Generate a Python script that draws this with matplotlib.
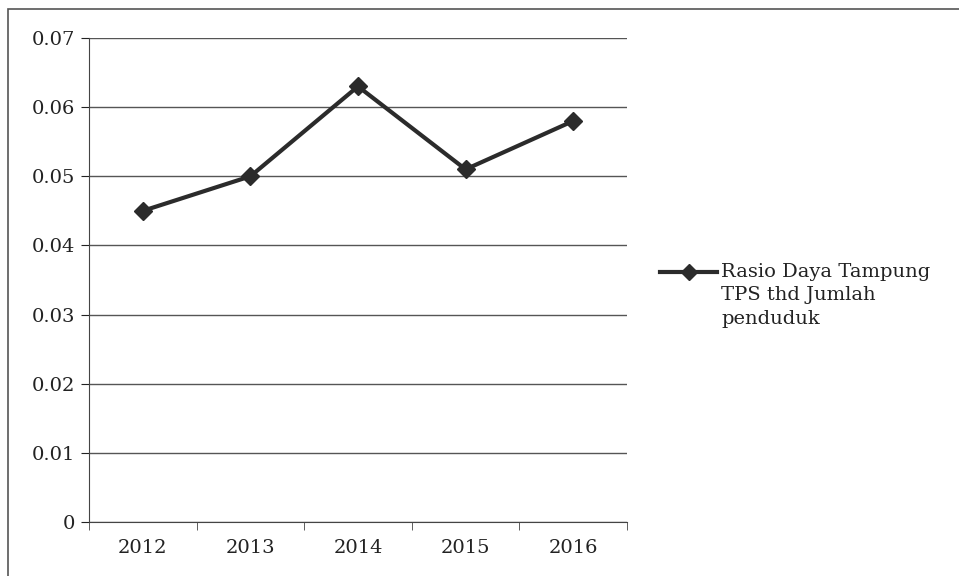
import numpy as np
import matplotlib.pyplot as plt
from matplotlib.patches import Rectangle
from matplotlib.lines import Line2D

years = ["2012", "2013", "2014", "2015", "2016"]
rasio = [0.045, 0.050, 0.063, 0.051, 0.058]
label = "Rasio Daya Tampung\nTPS thd Jumlah\npenduduk"

plt.rcParams['font.family'] = ['DejaVu Serif']

fig = plt.figure(figsize=(9.59, 5.76), dpi=100)
fig.patches.append(Rectangle((8/959, -0.1), 1.2, 1.1 - 9/576, transform=fig.transFigure,
                             fill=False, edgecolor="#555555", lw=1.2))

ax = fig.add_axes([89/959, 1-522/576, 538/959, 484/576])
x = np.arange(len(years))
ax.plot(x, rasio, color="#2b2b2b", lw=3, marker="D", markersize=9,
        markerfacecolor="#2b2b2b")

ax.set_xlim(-0.5, len(years)-0.5)
ax.set_ylim(0, 0.07)
ax.set_yticks(np.arange(0, 0.071, 0.01))
ax.set_yticklabels(["0"] + ["%.2f" % v for v in np.arange(0.01, 0.071, 0.01)])
ax.yaxis.grid(True, color="#555555", lw=1)
ax.set_axisbelow(True)

ax.set_xticks(x)
ax.set_xticklabels(years)
ax.set_xticks(np.arange(-0.5, len(years), 1), minor=True)
ax.tick_params(axis="x", which="major", length=0, pad=12, labelsize=14, colors="#222222")
ax.tick_params(axis="x", which="minor", length=6, color="#444444")
ax.tick_params(axis="y", length=6, labelsize=14, colors="#222222", pad=4)

for s in ["top", "right"]:
    ax.spines[s].set_visible(False)
for s in ["left", "bottom"]:
    ax.spines[s].set_color("#444444")

# legend drawn by hand: handle sits on the first text line
ly = 1 - 272/576
fig.add_artist(Line2D([660/959, 717/959], [ly, ly], transform=fig.transFigure,
                      color="#2b2b2b", lw=3))
fig.add_artist(Line2D([689/959], [ly], transform=fig.transFigure, marker="D",
                      markersize=8, color="#2b2b2b"))
fig.text(721/959, 1 - 263/576, label, ha="left", va="top", fontsize=14,
         color="#222222", linespacing=1.38)

fig.savefig("out.png", dpi=100)
